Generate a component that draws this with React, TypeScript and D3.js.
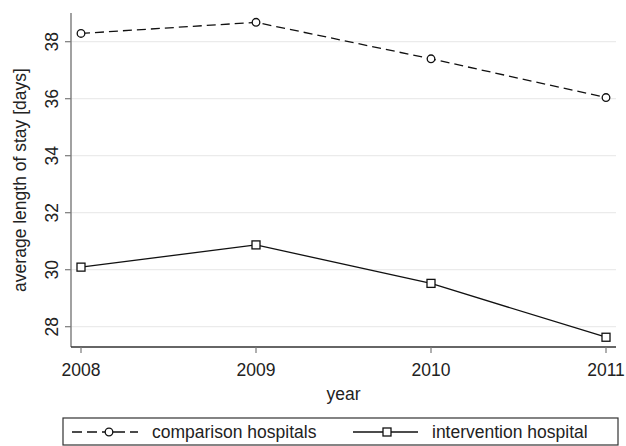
import React from "react";
import * as d3 from "d3";

const years = [2008, 2009, 2010, 2011];
const comparison = [38.29, 38.68, 37.4, 36.04];
const intervention = [30.09, 30.87, 29.52, 27.63];
const yTicks = [28, 30, 32, 34, 36, 38];
const seriesNames = ["comparison hospitals", "intervention hospital"];

const W = 626;
const H = 446;
const FONT = "'Liberation Sans', Arial, sans-serif";
const FS = 17.5;

export default function App() {
  const x = d3.scaleLinear().domain([2008, 2011]).range([81, 606]);
  const y = d3.scaleLinear().domain([28, 38]).range([326.7, 41.7]);
  const left = 71;
  const right = 616;
  const top = 13;
  const bottom = 347;

  const line = d3
    .line<number>()
    .x((_, i) => x(years[i]))
    .y((d) => y(d));

  const sq = 8;

  return (
    <svg
      width={W}
      height={H}
      style={{ position: "absolute", left: 0, top: 0, background: "#fff" }}
      fontFamily={FONT}
    >
      {/* horizontal grid */}
      {yTicks.map((t) => (
        <line key={"g" + t} x1={left} x2={right} y1={y(t)} y2={y(t)} stroke="#ebebeb" strokeWidth={1.2} />
      ))}

      {/* y axis */}
      <line x1={left} x2={left} y1={top} y2={bottom} stroke="#7a7a7a" strokeWidth={1.4} />
      {yTicks.map((t) => (
        <g key={"yt" + t}>
          <line x1={left - 6} x2={left} y1={y(t)} y2={y(t)} stroke="#7a7a7a" strokeWidth={1.2} />
          <text
            transform={`translate(${58},${y(t)}) rotate(-90)`}
            textAnchor="middle"
            fontSize={FS}
            fill="#222"
          >
            {t}
          </text>
        </g>
      ))}
      <text
        transform={`translate(${26},${(top + bottom) / 2}) rotate(-90)`}
        textAnchor="middle"
        fontSize={FS}
        fill="#222"
      >
        average length of stay [days]
      </text>

      {/* x axis */}
      <line x1={left} x2={right} y1={bottom} y2={bottom} stroke="#333" strokeWidth={1.4} />
      {years.map((yr) => (
        <g key={"xt" + yr}>
          <line x1={x(yr)} x2={x(yr)} y1={bottom} y2={bottom + 6} stroke="#7a7a7a" strokeWidth={1.2} />
          <text x={x(yr)} y={376} textAnchor="middle" fontSize={FS} fill="#222">
            {yr}
          </text>
        </g>
      ))}
      <text x={(left + right) / 2} y={400} textAnchor="middle" fontSize={FS} fill="#222">
        year
      </text>

      {/* series */}
      <path d={line(comparison) || ""} fill="none" stroke="#111" strokeWidth={1.3} strokeDasharray="9,5" />
      <path d={line(intervention) || ""} fill="none" stroke="#111" strokeWidth={1.3} />
      {comparison.map((v, i) => (
        <circle key={"c" + i} cx={x(years[i])} cy={y(v)} r={3.8} fill="#fff" stroke="#111" strokeWidth={1.3} />
      ))}
      {intervention.map((v, i) => (
        <rect
          key={"s" + i}
          x={x(years[i]) - sq / 2}
          y={y(v) - sq / 2}
          width={sq}
          height={sq}
          fill="#fff"
          stroke="#111"
          strokeWidth={1.3}
        />
      ))}

      {/* legend */}
      <rect x={63} y={418} width={555} height={27} fill="#fff" stroke="#333" strokeWidth={1.2} />
      <line x1={72} x2={105} y1={432} y2={432} stroke="#111" strokeWidth={1.3} strokeDasharray="10,5" />
      <line x1={113} x2={138} y1={432} y2={432} stroke="#111" strokeWidth={1.3} strokeDasharray="12,5" />
      <circle cx={109} cy={432} r={3.8} fill="#fff" stroke="#111" strokeWidth={1.3} />
      <text x={152} y={438} fontSize={FS} fill="#222">
        {seriesNames[0]}
      </text>
      <line x1={353} x2={418} y1={432} y2={432} stroke="#111" strokeWidth={1.3} />
      <rect x={387 - sq / 2} y={432 - sq / 2} width={sq} height={sq} fill="#fff" stroke="#111" strokeWidth={1.3} />
      <text x={432} y={438} fontSize={FS} fill="#222">
        {seriesNames[1]}
      </text>
    </svg>
  );
}
